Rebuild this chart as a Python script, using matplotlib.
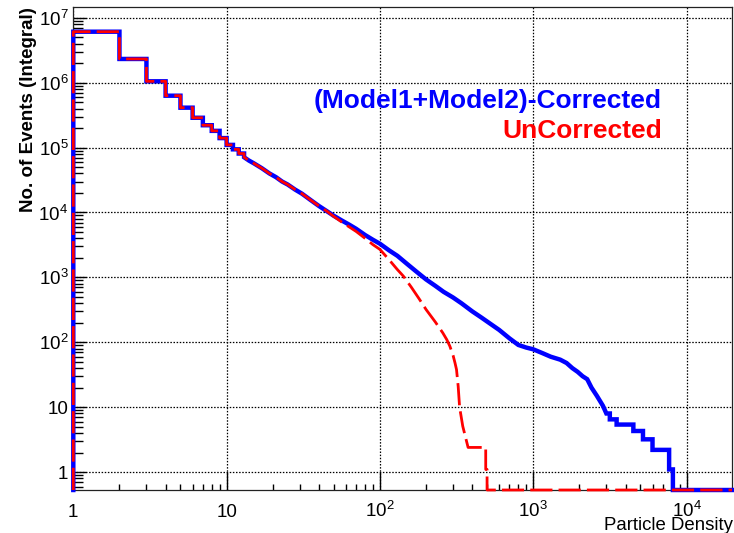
import numpy as np
import matplotlib
matplotlib.use('Agg')
import matplotlib.pyplot as plt
from matplotlib.ticker import FixedLocator, FixedFormatter, NullFormatter

plt.rcParams['font.family'] = ['Liberation Sans', 'DejaVu Sans']
plt.rcParams['mathtext.fontset'] = 'custom'
plt.rcParams['mathtext.rm'] = 'Liberation Sans'
plt.rcParams['mathtext.it'] = 'Liberation Sans:italic'
plt.rcParams['mathtext.bf'] = 'Liberation Sans:bold'
plt.rcParams['mathtext.default'] = 'regular'

# ---- data (integral counts N(>x)) ----
corr_x = [1, 2, 3, 4, 5, 6, 7, 8, 9, 10, 11, 12, 13, 14, 15, 17, 19, 21, 23, 25,
          28, 31, 35, 40, 45, 50, 56, 63, 70, 80, 90, 100, 115, 130, 150, 175,
          200, 230, 260, 300, 340, 400, 460, 530, 600, 700, 800, 900, 1000, 1150,
          1300, 1500, 1650, 1800, 1950, 2100, 2250, 2400, 2600, 2850, 3000, 3160,
          3500, 4500, 5200, 6000, 7700, 8150]
corr_y = [6.1e6, 2.32e6, 1.05e6, 6.3e5, 4.12e5, 2.88e5, 2.21e5, 1.81e5, 1.40e5,
          1.10e5, 9.4e4, 8.1e4, 7.1e4, 6.3e4, 5.75e4, 4.8e4, 4.0e4, 3.5e4, 3.0e4,
          2.7e4, 2.25e4, 1.95e4, 1.58e4, 1.26e4, 1.05e4, 8.9e3, 7.6e3, 6.5e3,
          5.6e3, 4.5e3, 3.8e3, 3.3e3, 2.6e3, 2.15e3, 1.62e3, 1.2e3, 930, 740, 600,
          490, 400, 300, 240, 190, 155, 115, 91, 83, 78, 68, 60, 54, 48, 40, 35,
          30, 27, 20, 15, 10.5, 8, 6.5, 5.4, 4.3, 3.2, 2.2, 1.1, 0]

unc_x = [1, 2, 3, 4, 5, 6, 7, 8, 9, 10, 11, 12, 13, 14, 15, 17, 19, 21, 23, 25,
         28, 31, 35, 40, 45, 50, 56, 63, 70, 80, 90, 100, 115, 130, 142, 160,
         180, 200, 230, 257, 273, 286, 300, 309, 316, 324, 331, 347, 376, 490, 500]
unc_y = [6.1e6, 2.32e6, 1.05e6, 6.3e5, 4.12e5, 2.88e5, 2.21e5, 1.81e5, 1.40e5,
         1.10e5, 9.4e4, 8.1e4, 7.1e4, 6.3e4, 5.75e4, 4.8e4, 4.0e4, 3.5e4, 3.0e4,
         2.7e4, 2.25e4, 1.95e4, 1.58e4, 1.26e4, 1.05e4, 8.7e3, 7.2e3, 6.0e3,
         5.1e3, 4.0e3, 3.2e3, 2.7e3, 1.86e3, 1.32e3, 1.05e3, 710, 470, 320, 205,
         140, 110, 87, 63, 48, 38, 21, 10, 5.1, 2.4, 1.1, 0]

x_ticks = [1, 10, 100, 1000, 10000]
x_tick_labels = ['1', '10', '$10^{2}$', '$10^{3}$', '$10^{4}$']
y_ticks = [1, 10, 1e2, 1e3, 1e4, 1e5, 1e6, 1e7]
y_tick_labels = ['1', '10', '$10^{2}$', '$10^{3}$', '$10^{4}$', '$10^{5}$',
                 '$10^{6}$', '$10^{7}$']

xmin, xmax = 1.0, 1.98e4
ymin, ymax = 0.53, 1.45e7

W, H = 734, 533
fig = plt.figure(figsize=(W / 100, H / 100), dpi=100)
L, R, T, B = 73.3, 732.0, 7.3, 490.0
ax = fig.add_axes([L / W, (H - B) / H, (R - L) / W, (B - T) / H])
ax.set_xscale('log')
ax.set_yscale('log')
ax.set_xlim(xmin, xmax)
ax.set_ylim(ymin, ymax)


def hist_path(xs, ys, smooth_from, smooth_to):
    """Integral histogram outline: coarse bins drawn as steps, the dense
    unit-width bins (too fine to resolve) joined directly."""
    xs = list(map(float, xs))
    ys = [y if y > 0 else ymin for y in ys]  # empty bins lie on the axis
    px, py = [xs[0]], [ymin]
    prev = ymin
    for i, (x, y) in enumerate(zip(xs, ys)):
        smooth = i > 0 and xs[i - 1] >= smooth_from and x <= smooth_to
        if not smooth:
            px.append(x)
            py.append(prev)
        px.append(x)
        py.append(y)
        prev = y
    px.append(xmax)
    py.append(prev)
    return px, py


bx, by = hist_path(corr_x, corr_y, 13, 3000)
ax.plot(bx, by, color='#0000ff', lw=3.2, clip_on=False, zorder=3,
        solid_joinstyle='miter')
rx, ry = hist_path(unc_x, unc_y, 13, 376)
ax.plot(rx, ry, color='#ff0000', lw=2.0, clip_on=False, zorder=4,
        dashes=(8, 2.2))

# grid
ax.set_axisbelow(True)
ax.grid(True, which='major', color='black', linestyle=(0, (1.2, 1.3)),
        linewidth=0.9)

# ticks
ax.xaxis.set_major_locator(FixedLocator(x_ticks))
ax.xaxis.set_major_formatter(FixedFormatter(x_tick_labels))
xminor = [m * 10 ** e for e in range(0, 5) for m in range(2, 10)
          if m * 10 ** e < xmax]
ax.xaxis.set_minor_locator(FixedLocator(xminor))
ax.xaxis.set_minor_formatter(NullFormatter())
ax.yaxis.set_major_locator(FixedLocator(y_ticks))
ax.yaxis.set_major_formatter(FixedFormatter(y_tick_labels))
yminor = [m * 10 ** e for e in range(-1, 8) for m in range(2, 10)
          if ymin < m * 10 ** e < ymax]
ax.yaxis.set_minor_locator(FixedLocator(yminor))
ax.yaxis.set_minor_formatter(NullFormatter())

ax.tick_params(which='both', direction='in', top=False, right=False,
               color='black', width=1.0, labelsize=13.5)
ax.tick_params(axis='x', which='major', length=13, pad=19.4)
ax.tick_params(axis='x', which='minor', length=4.3)
ax.tick_params(axis='y', which='major', length=9.5, pad=3.6)
ax.tick_params(axis='y', which='minor', length=7.5)
for lab in ax.get_xticklabels():
    lab.set_va('baseline')
for lab in ax.get_yticklabels():
    lab.set_va('center_baseline')

for s in ax.spines.values():
    s.set_linewidth(0.9)
    s.set_color('#222222')

# axis titles
ax.set_ylabel('No. of Events (Integral)', fontsize=13.5, fontweight='bold',
              loc='top')
ax.yaxis.set_label_coords((37 - L) / (R - L), 1.0)
ax.set_xlabel('Particle Density', fontsize=13.4, loc='right')
ax.xaxis.label.set_va('baseline')
ax.xaxis.set_label_coords((733 - L) / (R - L), -(529.5 - B) / (B - T))

# legend-like labels
ax.text((661.7 - L) / (R - L), (B - 107.7) / (B - T),
        '(Model1+Model2)-Corrected', transform=ax.transAxes, ha='right',
        va='baseline', color='#0000ff', fontsize=19, fontweight='bold')
ax.text((661.7 - L) / (R - L), (B - 138.3) / (B - T),
        'UnCorrected', transform=ax.transAxes, ha='right',
        va='baseline', color='#ff0000', fontsize=19, fontweight='bold')

fig.savefig('out.png', dpi=100)
